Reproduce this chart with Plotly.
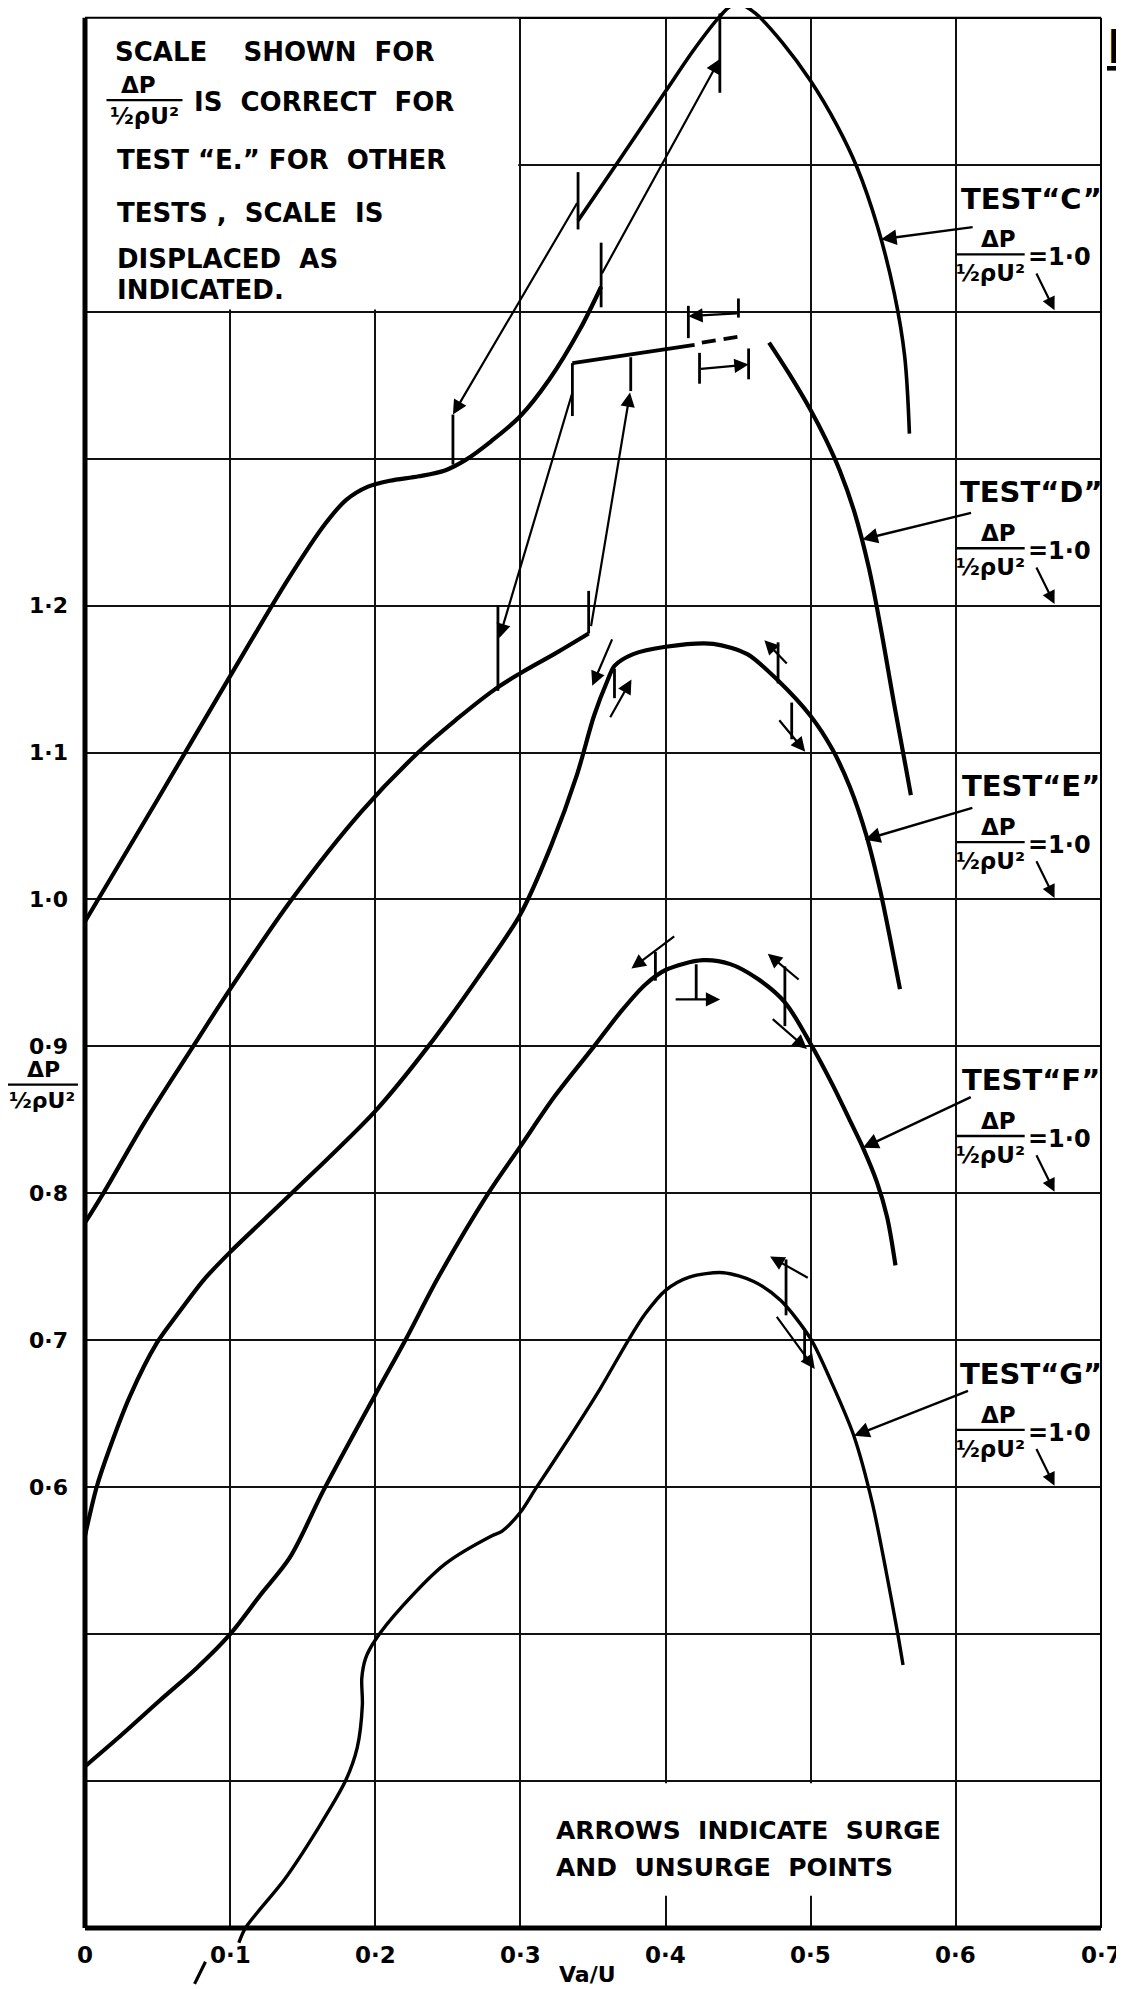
import plotly.graph_objects as go

# ---------------- axes / ticks ----------------
X_RANGE = [0.0, 0.7]
Y_RANGE = [0.2585, 1.6067]
x_ticks = [0.0, 0.1, 0.2, 0.3, 0.4, 0.5, 0.6, 0.7]
x_tick_labels = ["0", "0·1", "0·2", "0·3", "0·4", "0·5", "0·6", "0·7"]
y_ticks = [0.3, 0.4, 0.5, 0.6, 0.7, 0.8, 0.9, 1.0, 1.1, 1.2, 1.3, 1.4, 1.5, 1.6]
y_tick_labels = ["", "", "", "0·6", "0·7", "0·8", "0·9", "1·0", "1·1", "1·2", "", "", "", ""]

# ---------------- curves ----------------
c_low_x = [0.0, 0.05, 0.1, 0.14, 0.165, 0.18, 0.195, 0.21, 0.23, 0.248, 0.262, 0.28, 0.3, 0.32, 0.341, 0.3556]
c_low_y = [0.985, 1.068, 1.152, 1.218, 1.255, 1.272, 1.281, 1.285, 1.288, 1.292, 1.299, 1.312, 1.329, 1.354, 1.388, 1.417]
c_up_x = [0.3397, 0.37, 0.4, 0.42, 0.4374, 0.445, 0.452, 0.462, 0.4806, 0.5, 0.518, 0.532, 0.546, 0.5577, 0.5647, 0.568]
c_up_y = [1.462, 1.506, 1.550, 1.579, 1.601, 1.608, 1.609, 1.603, 1.583, 1.557, 1.527, 1.498, 1.458, 1.412, 1.370, 1.317]

d_low_x = [0.0, 0.0126, 0.0415, 0.0745, 0.1, 0.1424, 0.1906, 0.2296, 0.2565, 0.2824, 0.3, 0.325, 0.347]
d_low_y = [0.780, 0.800, 0.849, 0.900, 0.939, 1.000, 1.060, 1.100, 1.123, 1.143, 1.154, 1.168, 1.181]
d_plat_x = [0.3358, 0.376, 0.42]
d_plat_y = [1.365, 1.371, 1.3775]
d_dash_x = [0.425, 0.4502]
d_dash_y = [1.379, 1.383]
d_dn_x = [0.4713, 0.485, 0.5, 0.51, 0.52, 0.53, 0.54, 0.548, 0.5573, 0.5655, 0.569]
d_dn_y = [1.379, 1.358, 1.333, 1.314, 1.292, 1.264, 1.226, 1.186, 1.134, 1.090, 1.071]

e_x = [0.0, 0.008, 0.0172, 0.031, 0.0494, 0.0632, 0.0817, 0.1, 0.1424, 0.2, 0.2365, 0.2709, 0.3,
       0.3213, 0.339, 0.3507, 0.36, 0.3648, 0.3777, 0.4, 0.4329, 0.4563, 0.4775, 0.4998, 0.515,
       0.5268, 0.5385, 0.5479, 0.555, 0.5615]
e_y = [0.567, 0.600, 0.627, 0.662, 0.698, 0.717, 0.741, 0.760, 0.800, 0.856, 0.900, 0.947, 0.990,
       1.037, 1.085, 1.125, 1.149, 1.159, 1.167, 1.172, 1.174, 1.167, 1.149, 1.125, 1.102,
       1.077, 1.043, 1.006, 0.972, 0.939]

f_x = [0.0, 0.0241, 0.0517, 0.077, 0.1, 0.1207, 0.1414, 0.1644, 0.2, 0.2207, 0.2435, 0.2778, 0.3,
       0.3236, 0.3507, 0.3695, 0.3859, 0.4, 0.4258, 0.4446, 0.4634, 0.4822, 0.4998, 0.515, 0.5268,
       0.536, 0.5455, 0.5526, 0.5584]
f_y = [0.410, 0.4305, 0.455, 0.477, 0.500, 0.5265, 0.5526, 0.598, 0.663, 0.700, 0.743, 0.800, 0.832,
       0.866, 0.900, 0.924, 0.942, 0.952, 0.9587, 0.956, 0.946, 0.930, 0.902, 0.874, 0.850,
       0.831, 0.808, 0.784, 0.751]

g_x = [0.106, 0.1105, 0.1374, 0.1607, 0.1794, 0.1876, 0.1911, 0.1907, 0.1935, 0.2, 0.2187, 0.2484,
       0.2804, 0.2872, 0.3, 0.3105, 0.3292, 0.3549, 0.3743, 0.386, 0.4, 0.4164, 0.4397, 0.4607,
       0.4794, 0.5, 0.5145, 0.5297, 0.5425, 0.5519, 0.56, 0.5636]
g_y = [0.290, 0.300, 0.333, 0.368, 0.400, 0.423, 0.452, 0.470, 0.484, 0.496, 0.519, 0.548,
       0.567, 0.570, 0.583, 0.599, 0.627, 0.667, 0.700, 0.718, 0.734, 0.743, 0.746, 0.740,
       0.727, 0.701, 0.671, 0.635, 0.589, 0.543, 0.500, 0.479]
g_tail_x = [0.083, 0.0755]
g_tail_y = [0.277, 0.262]

# ---------------- surge / unsurge marks ----------------
tick_x = [0.2535, 0.3397, 0.3556, 0.4374,
          0.2845, 0.347, 0.3358, 0.376, 0.4157, 0.4502, 0.4234, 0.4572,
          0.3648, 0.4775, 0.4869,
          0.393, 0.4211, 0.4822,
          0.483, 0.4958]
tick_y0 = [1.296, 1.456, 1.403, 1.549,
           1.142, 1.181, 1.329, 1.346, 1.382, 1.396, 1.351, 1.354,
           1.137, 1.147, 1.109,
           0.9447, 0.932, 0.9138,
           0.717, 0.686]
tick_y1 = [1.330, 1.495, 1.447, 1.603,
           1.200, 1.210, 1.365, 1.369, 1.404, 1.409, 1.372, 1.375,
           1.157, 1.175, 1.134,
           0.9643, 0.9559, 0.9545,
           0.755, 0.708]

arrow_x0 = [0.3397, 0.3556, 0.3358, 0.3485, 0.4502, 0.4234,
            0.3636, 0.3613, 0.4845, 0.4775, 0.407, 0.4059, 0.4927, 0.4728, 0.499, 0.4759]
arrow_y0 = [1.475, 1.425, 1.345, 1.185, 1.399, 1.361,
            1.178, 1.123, 1.1596, 1.123, 0.9756, 0.932, 0.9447, 0.9194, 0.742, 0.7169]
arrow_x1 = [0.2535, 0.4374, 0.2855, 0.3755, 0.4157, 0.4572,
            0.3495, 0.3765, 0.4681, 0.4962, 0.3765, 0.4376, 0.4704, 0.4974, 0.472, 0.5028]
arrow_y1 = [1.330, 1.572, 1.178, 1.345, 1.397, 1.364,
            1.1455, 1.1497, 1.1764, 1.1006, 0.953, 0.932, 0.963, 0.8983, 0.757, 0.6805]

# ---------------- test labels ----------------
test_names = ["C", "D", "E", "F", "G"]
test_levels = [1.4, 1.2, 1.0, 0.8, 0.6]
leader_x0 = [0.6126, 0.6115, 0.6124, 0.6113, 0.6094]
leader_y0 = [1.4577, 1.2634, 1.0626, 0.866, 0.666]
leader_x1 = [0.5484, 0.5355, 0.5373, 0.536, 0.5298]
leader_y1 = [1.4493, 1.245, 1.0407, 0.831, 0.6350]

box_lines = ["SCALE\u00a0\u00a0\u00a0 SHOWN\u00a0 FOR",
             "IS\u00a0 CORRECT\u00a0 FOR",
             "TEST “E.”\u00a0FOR\u00a0 OTHER",
             "TESTS ,\u00a0 SCALE\u00a0 IS",
             "DISPLACED\u00a0 AS",
             "INDICATED."]
box_x = [0.0193, 0.0737, 0.0207, 0.0207, 0.0207, 0.0207]
box_y = [1.577, 1.543, 1.503, 1.467, 1.436, 1.4145]
note_lines = ["ARROWS\u00a0 INDICATE\u00a0 SURGE", "AND\u00a0 UNSURGE\u00a0 POINTS"]
note_y = [0.3667, 0.341]

FONT = "DejaVu Sans"
BLACK = "black"


def py(v):
    return (v - Y_RANGE[0]) / (Y_RANGE[1] - Y_RANGE[0])


fig = go.Figure()


def add_line(x, y, width, spline=True, dash=None, smoothing=1.0):
    fig.add_trace(go.Scatter(
        x=x, y=y, mode="lines", hoverinfo="skip", showlegend=False,
        line=dict(color=BLACK, width=width, shape="spline" if spline else "linear",
                  smoothing=smoothing if spline else None, dash=dash)))


add_line(c_low_x, c_low_y, 4.2, smoothing=0.9)
add_line(c_up_x, c_up_y, 3.6)
add_line(d_low_x, d_low_y, 4.2)
add_line(d_plat_x, d_plat_y, 3.8, spline=False)
add_line(d_dash_x, d_dash_y, 3.8, spline=False, dash="14px,8px")
add_line(d_dn_x, d_dn_y, 4.2)
add_line(e_x, e_y, 4.2, smoothing=0.8)
add_line(f_x, f_y, 4.2, smoothing=0.9)
add_line(g_x, g_y, 3.4, smoothing=0.8)
add_line(g_tail_x, g_tail_y, 3.2, spline=False)

# vertical surge ticks
tx, ty = [], []
for x, a, b in zip(tick_x, tick_y0, tick_y1):
    tx += [x, x, None]
    ty += [a, b, None]
add_line(tx, ty, 2.8, spline=False)


def add_arrow(x0, y0, x1, y1, width=2.2, size=1.3):
    fig.add_annotation(x=x1, y=y1, ax=x0, ay=y0, xref="x", yref="y", axref="x", ayref="y",
                       text="", showarrow=True, arrowhead=2, arrowsize=size,
                       arrowwidth=width, arrowcolor=BLACK, standoff=0, startstandoff=0)


for a, b, c, d in zip(arrow_x0, arrow_y0, arrow_x1, arrow_y1):
    add_arrow(a, b, c, d)


def add_fraction(x, y, size, width, xref="x", yref="y", num_dx=0, num_dy=14, den_dy=16):
    f = dict(family=FONT, size=size, color=BLACK, weight="bold")
    fig.add_annotation(x=x, y=y, xref=xref, yref=yref, text="ΔP", showarrow=False,
                       xshift=num_dx, yshift=num_dy, font=f, xanchor="center", yanchor="middle")
    fig.add_annotation(x=x, y=y, xref=xref, yref=yref, text="½ρU²", showarrow=False,
                       yshift=-den_dy, font=f, xanchor="center", yanchor="middle")
    fig.add_shape(type="line", xref=xref, yref=yref, xsizemode="pixel", ysizemode="pixel",
                  xanchor=x, yanchor=y, x0=-width / 2, x1=width / 2, y0=0, y1=0,
                  line=dict(color=BLACK, width=2.4), layer="above")


# test labels
for name, g, lx0, ly0, lx1, ly1 in zip(test_names, test_levels, leader_x0, leader_y0, leader_x1, leader_y1):
    fig.add_annotation(x=0.652, y=g + 0.077, xref="x", yref="y", text="TEST“" + name + "”",
                       showarrow=False, xanchor="center", yanchor="middle",
                       font=dict(family=FONT, size=29, color=BLACK, weight="bold"))
    add_fraction(0.624, g + 0.039, 23, 68, num_dx=8, num_dy=15, den_dy=19)
    fig.add_annotation(x=0.648, y=g + 0.037, xref="x", yref="y", text="=1·0", showarrow=False,
                       xanchor="left", yanchor="middle",
                       font=dict(family=FONT, size=24, color=BLACK, weight="bold"))
    add_arrow(lx0, ly0, lx1, ly1, width=2.4, size=1.3)
    add_arrow(0.655, g + 0.027, 0.668, g + 0.001, width=2.2, size=1.2)

# top-left note
for t, x, y in zip(box_lines, box_x, box_y):
    fig.add_annotation(x=x, y=y, xref="x", yref="y", text=t, showarrow=False,
                       xanchor="left", yanchor="middle",
                       font=dict(family=FONT, size=26, color=BLACK, weight="bold"))
add_fraction(0.041, 1.544, 23, 76, num_dx=-6, num_dy=15, den_dy=16)

# bottom note
for t, y in zip(note_lines, note_y):
    fig.add_annotation(x=0.323, y=y, xref="x", yref="y", text=t, showarrow=False,
                       xanchor="left", yanchor="middle",
                       font=dict(family=FONT, size=25, color=BLACK, weight="bold"))

# x tick labels
for v, lab in zip(x_ticks, x_tick_labels):
    fig.add_annotation(x=v, y=0.2816, xref="x", yref="y", text=lab, showarrow=False,
                       xanchor="center", yanchor="middle",
                       font=dict(family=FONT, size=23, color=BLACK, weight="bold"))

# axis titles
fig.add_annotation(x=0.346, y=0.2687, xref="x", yref="y", text="Va/U", showarrow=False,
                   xanchor="center", yanchor="middle",
                   font=dict(family=FONT, size=22, color=BLACK, weight="bold"))
add_fraction(-0.0423, py(0.874), 22, 72, xref="paper", yref="paper", num_dx=1, num_dy=15, den_dy=16)

# clipped figure title at right edge
fig.add_annotation(x=1.004, y=0.995, xref="paper", yref="paper", text="<u>FIG.</u>",
                   showarrow=False, xanchor="left", yanchor="top",
                   font=dict(family=FONT, size=46, color=BLACK, weight="bold"))

# white panels hiding the grid (note boxes, outside frame)
for x0, x1, y0, y1 in [(-0.01, 0.2985, 1.4015, 1.62), (0.3015, 0.5985, 0.322, 0.3985),
                       (-0.01, 0.71, 1.6, 1.62), (-0.01, 0.71, 0.25, 0.3)]:
    fig.add_shape(type="rect", xref="x", yref="y", x0=x0, x1=x1, y0=y0, y1=y1,
                  fillcolor="white", line=dict(width=0), layer="between")

# frame
frame = [(0, 0, py(0.3), py(1.6), 5), (0, 1, py(0.3), py(0.3), 5),
         (0, 1, py(1.6), py(1.6), 2), (1, 1, py(0.3), py(1.6), 2)]
for x0, x1, y0, y1, w in frame:
    fig.add_shape(type="line", xref="paper", yref="paper", x0=x0, x1=x1, y0=y0, y1=y1,
                  line=dict(color=BLACK, width=w), layer="above")

fig.update_layout(
    width=1116, height=1981,
    margin=dict(l=77, r=23, t=0, b=0),
    paper_bgcolor="white", plot_bgcolor="white",
    xaxis=dict(range=X_RANGE, tickvals=x_ticks, showticklabels=False, showgrid=True,
               gridcolor="#111111", gridwidth=1.6, zeroline=False, showline=False, ticks=""),
    yaxis=dict(range=Y_RANGE, tickvals=y_ticks, ticktext=y_tick_labels, showgrid=True,
               gridcolor="#111111", gridwidth=1.6, zeroline=False, showline=False, ticks="",
               ticklabelstandoff=16,
               tickfont=dict(family=FONT, size=22, color=BLACK, weight="bold")),
)

fig.write_html("out.html")
